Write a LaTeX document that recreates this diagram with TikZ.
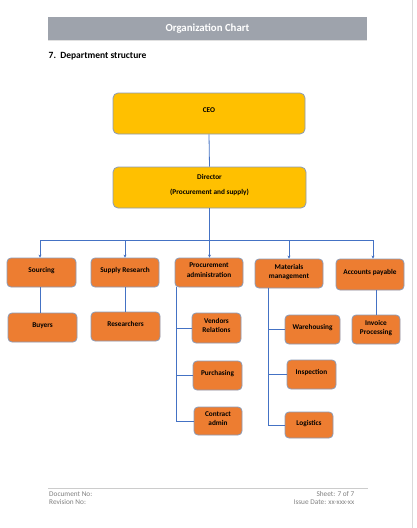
\documentclass[tikz,border=0pt]{standalone}
\usepackage{fontspec}
\setmainfont{Carlito}
\usetikzlibrary{arrows.meta}
\definecolor{yel}{HTML}{FFC000}
\definecolor{org}{HTML}{ED7D31}
\definecolor{bord}{HTML}{8A9BB8}
\definecolor{lnk}{HTML}{4472C4}
\definecolor{bar}{HTML}{9EA3AC}
\definecolor{foot}{HTML}{808080}
\tikzset{
  ybox/.style={draw=bord, line width=0.8pt, fill=yel, rounded corners=5pt, inner sep=0pt, align=center, font=\bfseries\fontsize{7.3}{8.8}\selectfont, text depth=6pt},
  obox/.style={draw=bord, line width=0.8pt, fill=org, rounded corners=4pt, inner sep=0pt, align=center, font=\bfseries\fontsize{7.3}{9.3}\selectfont, text depth=4.5pt},
  link/.style={draw=lnk, line width=0.8pt},
  arr/.style={link, -{Stealth[length=3pt,width=3pt]}},
  foottxt/.style={font=\fontsize{7.3}{8}\selectfont, text=foot, inner sep=0pt}
}
\begin{document}
\begin{tikzpicture}[x=1pt,y=-1pt]
\useasboundingbox (0,0) rectangle (416,528);
\fill[white] (0,0) rectangle (416,528);
\draw[black!15, line width=1pt] (412,0) -- (412,528);
% title bar
\fill[bar] (48,17) rectangle (367,40);
\draw[black!12, line width=0.8pt] (48,40) -- (367,40);
\node[text=white, font=\bfseries\fontsize{10.8}{12}\selectfont, inner sep=0pt] (title) at (207.5,29) {Organization Chart};
\node[anchor=west, font=\bfseries\fontsize{9.5}{10}\selectfont, inner sep=0pt] (sec) at (48.5,56.5) {7.\ \ Department structure};
% top boxes
\node[ybox, minimum width=192pt, minimum height=41pt] (ceo) at (209,113.5) {CEO};
\node[ybox, minimum width=193pt, minimum height=41pt] (dir) at (209.5,187.5) {Director\\[6pt](Procurement and supply)};
% level 2
\node[obox, minimum width=69pt, minimum height=29pt] (src) at (41.5,272.5) {Sourcing};
\node[obox, minimum width=68pt, minimum height=29pt] (sr) at (125,272.5) {Supply Research};
\node[obox, minimum width=68pt, minimum height=29pt] (pa) at (209,272.5) {Procurement\\administration};
\node[obox, minimum width=68pt, minimum height=29pt] (mm) at (289,273.5) {Materials\\management};
\node[obox, minimum width=68pt, minimum height=31pt] (ap) at (370,274.5) {Accounts payable};
% level 3
\node[obox, minimum width=69pt, minimum height=29pt] (buy) at (42.5,327.5) {Buyers};
\node[obox, minimum width=69pt, minimum height=29pt] (res) at (125.5,326.5) {Researchers};
\node[obox, minimum width=49pt, minimum height=30pt] (vr) at (216.5,328) {Vendors\\Relations};
\node[obox, minimum width=49pt, minimum height=29pt] (pu) at (217.5,375.5) {Purchasing};
\node[obox, minimum width=48pt, minimum height=28pt] (ca) at (218,421) {Contract\\admin};
\node[obox, minimum width=55pt, minimum height=29pt] (wh) at (312.5,329.5) {Warehousing};
\node[obox, minimum width=49pt, minimum height=29pt] (ins) at (311.5,374.5) {Inspection};
\node[obox, minimum width=48pt, minimum height=26pt] (lo) at (309,425) {Logistics};
\node[obox, minimum width=48pt, minimum height=29pt] (ip) at (376,329.5) {Invoice\\Processing};
% connectors
\coordinate (bus) at (209.5,240);
\coordinate (busL) at (40,240);
\coordinate (busR) at (373,240);
\draw[link] (ceo.south) -- (dir.north);
\draw[link] (dir.south) -- (bus);
\draw[link] (busL) -- (busR);
\draw[arr] (busL) -- (busL |- src.north);
\draw[arr] (bus -| sr.north) -- (sr.north);
\draw[arr] (bus) -- (bus |- pa.north);
\draw[arr] (bus -| mm.north) -- (mm.north);
\draw[arr] (busR) -- (busR |- ap.north);
\draw[link] (busL |- src.south) -- (busL |- buy.north);
\draw[link] (sr.south -| res.north) -- (res.north);
\coordinate (paL) at ([xshift=2pt]pa.south west);
\draw[link] (paL) |- (vr.west);
\draw[link] (paL) |- (pu.west);
\draw[link] (paL) |- (ca.west);
\coordinate (mmL) at ([xshift=14pt]mm.south west);
\draw[link] (mmL) |- (wh.west);
\draw[link] (mmL) |- (ins.west);
\draw[link] (mmL) |- (lo.west);
\draw[link] (ap.south -| ip.north) -- (ip.north);
% footer
\draw[black!20, line width=0.8pt] (48,488) -- (368,488);
\node[foottxt, anchor=west] (dn) at (49,494) {Document No:};
\node[foottxt, anchor=west] (rn) at (49,502) {Revision No:};
\node[foottxt, anchor=east] (sh) at (354.5,494) {Sheet: 7 of 7};
\node[foottxt, anchor=east] (id) at (354.5,502) {Issue Date: xx-xxx-xx};
\end{tikzpicture}
\end{document}
